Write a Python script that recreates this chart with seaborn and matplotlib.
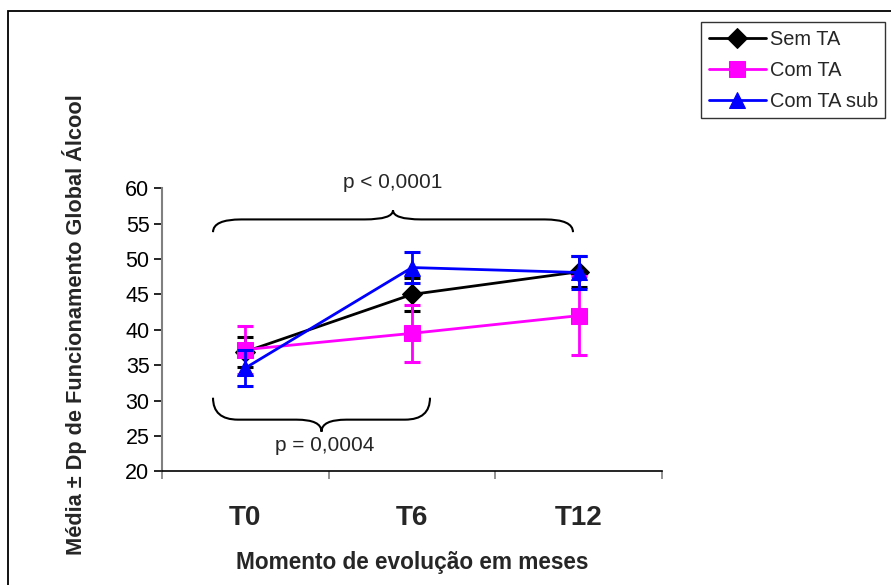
import numpy as np
import pandas as pd
import matplotlib
matplotlib.use("Agg")
import matplotlib.pyplot as plt
import seaborn as sns
from matplotlib.path import Path
from matplotlib.patches import PathPatch, Rectangle

# ---- data ----
moments = ["T0", "T6", "T12"]
series_names = ["Sem TA", "Com TA", "Com TA sub"]
sem_ta_mean = [36.9, 45.0, 48.2]
sem_ta_sd = [2.1, 2.3, 2.2]
com_ta_mean = [37.2, 39.5, 42.0]
com_ta_sd = [3.4, 4.0, 5.6]
com_ta_sub_mean = [34.6, 48.8, 48.1]
com_ta_sub_sd = [2.5, 2.2, 2.4]
yticks = [20, 25, 30, 35, 40, 45, 50, 55, 60]
p_top = "p < 0,0001"
p_bottom = "p = 0,0004"

colors = ["#000000", "#FF00FF", "#0000FF"]
markers = ["D", "s", "^"]
msizes = [10, 11, 11.5]

sns.set_theme(style="white")
plt.rcParams["font.family"] = ["Liberation Sans", "DejaVu Sans"]

fig = plt.figure(figsize=(8.91, 5.85), dpi=100)
ax = fig.add_axes([162 / 891, 1 - 471.3 / 585, 500 / 891, 283 / 585])

xpos = np.arange(len(moments))
means = [sem_ta_mean, com_ta_mean, com_ta_sub_mean]
sds = [sem_ta_sd, com_ta_sd, com_ta_sub_sd]

for i, name in enumerate(series_names):
    df = pd.DataFrame({"x": xpos, "y": means[i]})
    ax.errorbar(df["x"], df["y"], yerr=sds[i], fmt="none", ecolor=colors[i],
                elinewidth=2, capsize=6, capthick=2.2, zorder=2 + 2 * i)
    sns.lineplot(data=df, x="x", y="y", ax=ax, color=colors[i], marker=markers[i],
                 markersize=msizes[i], markeredgecolor=colors[i], linewidth=2,
                 label=name, zorder=3 + 2 * i, errorbar=None)

ax.set_xlim(-0.5, 2.5)
ax.set_ylim(20, 60)
ax.set_yticks(yticks)
ax.set_xticks([-0.5, 0.5, 1.5, 2.5], minor=False)
ax.set_xticklabels([])
ax.set_xticks(xpos, minor=True)
ax.set_xticklabels(moments, minor=True, fontsize=20, fontweight="bold")
ax.tick_params(axis="x", which="minor", bottom=False, length=0, pad=24)
ax.tick_params(axis="x", which="major", bottom=True, length=6, width=1.2,
               color="#808080", direction="out")
ax.tick_params(axis="y", left=True, labelsize=15.5, length=6, width=1.2,
               color="#000000", direction="out", pad=3)
for lab in ax.get_yticklabels():
    lab.set_color("black")

for s in ["top", "right"]:
    ax.spines[s].set_visible(False)
ax.spines["left"].set_color("#808080")
ax.spines["left"].set_linewidth(1.5)
ax.spines["bottom"].set_color("#000000")
ax.spines["bottom"].set_linewidth(1.2)

ax.set_xlabel("Momento de evolução em meses", fontsize=16.3, fontweight="bold", va="center")
ax.xaxis.set_label_coords(0.5, (471.3 - 562) / 283)
ax.set_ylabel("Média ± Dp de Funcionamento Global Álcool", fontsize=15.7,
              fontweight="bold", va="center")
ax.yaxis.set_label_coords((75 - 162) / 500, (471.3 - 325) / 283)


def brace(ax, x0, x1, y_end, y_mid, y_tip, dx):
    xc = (x0 + x1) / 2
    verts = [
        (x0, y_end), (x0, y_mid), (x0 + dx, y_mid),
        (xc - dx, y_mid),
        (xc, y_mid), (xc, y_tip),
        (xc, y_mid), (xc + dx, y_mid),
        (x1 - dx, y_mid),
        (x1, y_mid), (x1, y_end),
    ]
    codes = [Path.MOVETO, Path.CURVE3, Path.CURVE3, Path.LINETO,
             Path.CURVE3, Path.CURVE3, Path.CURVE3, Path.CURVE3,
             Path.LINETO, Path.CURVE3, Path.CURVE3]
    ax.add_patch(PathPatch(Path(verts, codes), fill=False, lw=1.5,
                           edgecolor="black", clip_on=False, zorder=1))


brace(ax, -0.194, 1.966, 53.8, 55.6, 56.9, 0.17)
brace(ax, -0.194, 1.108, 30.4, 27.3, 25.6, 0.15)
ax.text(0.886, 60.75, p_top, ha="center", va="center", fontsize=15, clip_on=False)
ax.text(0.478, 23.6, p_bottom, ha="center", va="center", fontsize=15, clip_on=False)

leg = ax.legend(loc="upper left", bbox_to_anchor=(701 / 891, 1 - 22 / 585),
                bbox_transform=fig.transFigure, borderaxespad=0, frameon=True,
                fancybox=False, edgecolor="black", fontsize=14.4, handlelength=2.85,
                handletextpad=0.2, labelspacing=0.6, borderpad=0.38, numpoints=1)
leg.get_frame().set_linewidth(1.0)

fig.patches.append(Rectangle((8 / 891, -0.1), 1.2, 1 - 11 / 585 + 0.1,
                             transform=fig.transFigure, fill=False,
                             edgecolor="black", lw=1.3, clip_on=False))

fig.savefig("out.png", dpi=100)
